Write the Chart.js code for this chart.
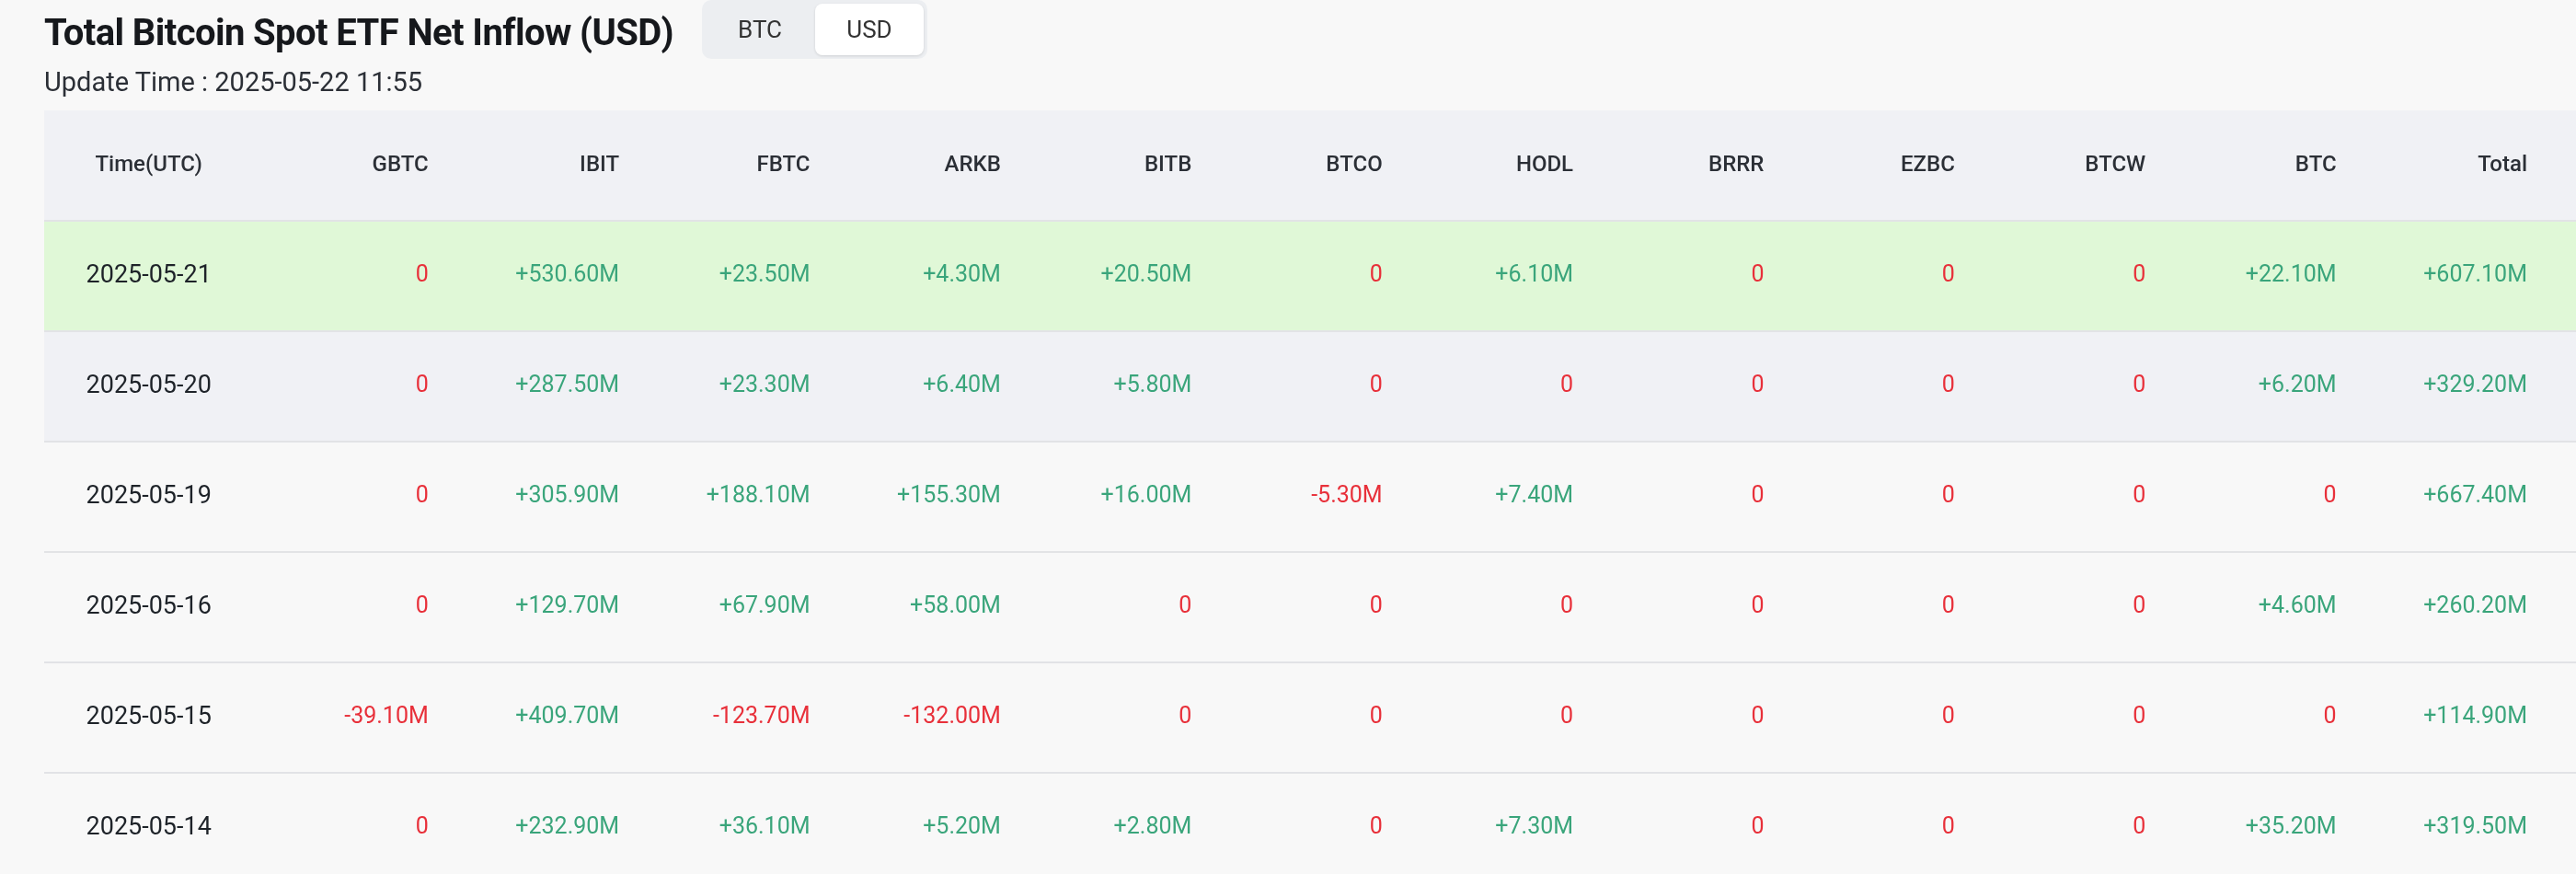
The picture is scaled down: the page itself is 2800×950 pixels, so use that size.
<!DOCTYPE html>
<html>
<head>
<meta charset="utf-8">
<script src="https://cdn.jsdelivr.net/npm/chart.js@4"></script>
<style>
  body { margin: 0; background: #f8f8f8; font-family: Roboto, sans-serif; overflow: hidden; }
  #wrap { position: relative; width: 2800px; height: 960px; }
  h1 { position: absolute; left: 48px; top: 12px; margin: 0; font-size: 40px; font-weight: 700; color: #16181c; letter-spacing: -0.6px; }
  #upd { position: absolute; left: 48px; top: 72px; font-size: 29px; color: #2b2f36; }
  #toggle { position: absolute; left: 763px; top: 0; width: 245px; height: 64px; background: #eceef1; border-radius: 10px; }
  #toggle span { position: absolute; top: 4px; height: 56px; line-height: 56px; width: 118px; text-align: center; font-size: 26px; color: #333; }
  #toggle .on { background: #fff; border-radius: 8px; left: 123px; box-shadow: 0 1px 3px rgba(0,0,0,0.12); }
  canvas { position: absolute; left: 0; top: 0; }
</style>
</head>
<body>
<div id="wrap">
  <canvas id="table" width="2800" height="960"></canvas>
  <h1>Total Bitcoin Spot ETF Net Inflow (USD)</h1>
  <div id="toggle"><span style="left:4px">BTC</span><span class="on">USD</span></div>
  <div id="upd">Update Time : 2025-05-22 11:55</div>
</div>
<script>
const columns = ['Time(UTC)', 'GBTC', 'IBIT', 'FBTC', 'ARKB', 'BITB', 'BTCO', 'HODL', 'BRRR', 'EZBC', 'BTCW', 'BTC', 'Total'];
const dates = ['2025-05-21', '2025-05-20', '2025-05-19', '2025-05-16', '2025-05-15', '2025-05-14'];
// values in millions USD, one array per date row
const row0521 = [0, 530.6, 23.5, 4.3, 20.5, 0, 6.1, 0, 0, 0, 22.1, 607.1];
const row0520 = [0, 287.5, 23.3, 6.4, 5.8, 0, 0, 0, 0, 0, 6.2, 329.2];
const row0519 = [0, 305.9, 188.1, 155.3, 16.0, -5.3, 7.4, 0, 0, 0, 0, 667.4];
const row0516 = [0, 129.7, 67.9, 58.0, 0, 0, 0, 0, 0, 0, 4.6, 260.2];
const row0515 = [-39.1, 409.7, -123.7, -132.0, 0, 0, 0, 0, 0, 0, 0, 114.9];
const row0514 = [0, 232.9, 36.1, 5.2, 2.8, 0, 7.3, 0, 0, 0, 35.2, 319.5];
const rows = [row0521, row0520, row0519, row0516, row0515, row0514];
const rowLabels = ['header'].concat(dates);

function fmt(v) {
  if (v === 0) return '0';
  return (v > 0 ? '+' : '-') + Math.abs(v).toFixed(2) + 'M';
}

const tablePlugin = {
  id: 'tablePlugin',
  beforeDatasetsDraw(chart) {
    const ctx = chart.ctx;
    const xs = chart.scales.x, ys = chart.scales.y;
    const rowH = Math.abs(ys.getPixelForValue(1) - ys.getPixelForValue(0));
    const colW = Math.abs(xs.getPixelForValue(1) - xs.getPixelForValue(0));
    const L = 48, R = chart.width;
    ctx.save();
    rowLabels.forEach((r, i) => {
      const cy = ys.getPixelForValue(i);
      let bg = '#f8f8f8';
      if (i === 0) bg = '#f0f1f5';
      else if (i === 1) bg = '#e0f8d7';
      else if (i === 2) bg = '#f0f1f5';
      ctx.fillStyle = bg;
      ctx.fillRect(L, cy - rowH / 2, R - L, rowH);
      if (i > 0) {
        ctx.fillStyle = '#e2e3e6';
        ctx.fillRect(L, cy - rowH / 2 - 1, R - L, 2);
      }
    });
    ctx.textBaseline = 'middle';
    columns.forEach((c, j) => {
      const cx = xs.getPixelForValue(j);
      const rx = cx + colW / 2 - 7;
      const y0 = ys.getPixelForValue(0);
      ctx.font = '500 24px Roboto, sans-serif';
      ctx.fillStyle = '#2b2f36';
      if (j === 0) { ctx.textAlign = 'center'; ctx.fillText(c, cx, y0); }
      else { ctx.textAlign = 'right'; ctx.fillText(c, rx, y0); }
      dates.forEach((d, i) => {
        const y = ys.getPixelForValue(i + 1);
        if (j === 0) {
          ctx.font = '27px Roboto, sans-serif';
          ctx.textAlign = 'center'; ctx.fillStyle = '#1e2329';
          ctx.fillText(d, cx, y);
        } else {
          const v = rows[i][j - 1];
          ctx.font = '25px Roboto, sans-serif';
          ctx.textAlign = 'right';
          ctx.fillStyle = v > 0 ? '#3aa57b' : '#e8303a';
          ctx.fillText(fmt(v), rx, y);
        }
      });
    });
    ctx.restore();
  }
};

new Chart(document.getElementById('table'), {
  type: 'bar',
  data: { labels: columns, datasets: [{ data: [], yAxisID: 'y' }] },
  options: {
    responsive: false,
    animation: false,
    layout: { padding: { left: 58, right: 46, top: 120, bottom: 0 } },
    plugins: { legend: { display: false }, tooltip: { enabled: false } },
    scales: {
      x: { type: 'category', offset: true, display: false, grid: { display: false } },
      y: { type: 'category', labels: rowLabels, offset: true, display: false, grid: { display: false } }
    }
  },
  plugins: [tablePlugin]
});
</script>
</body>
</html>
